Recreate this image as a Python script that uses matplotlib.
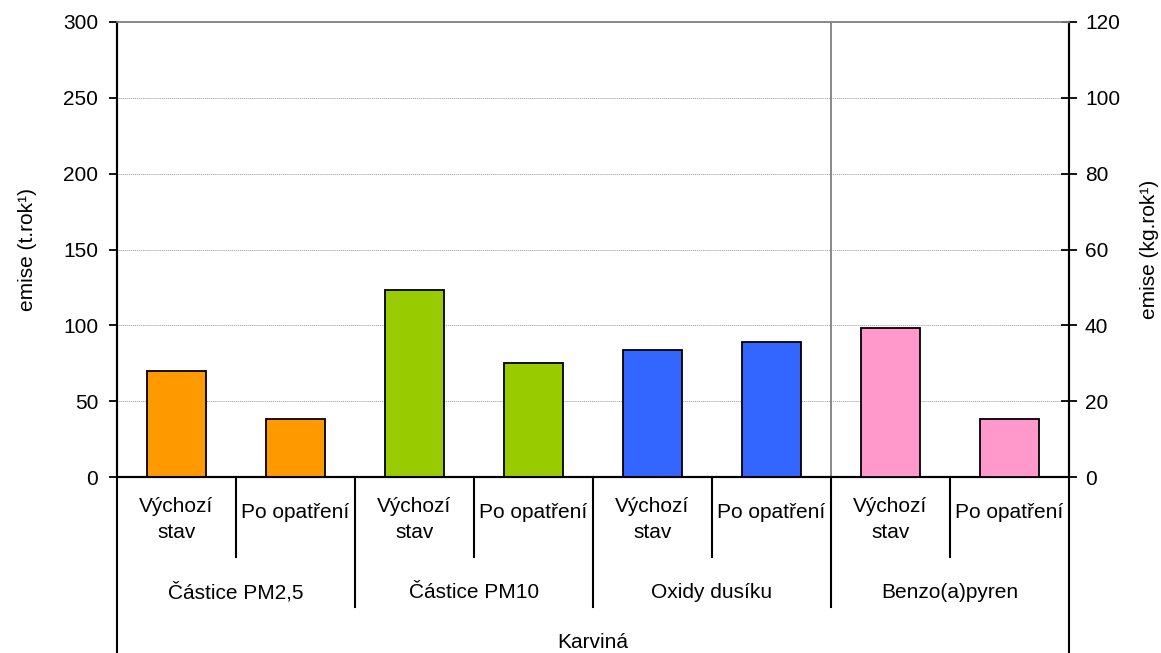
import matplotlib
matplotlib.use("Agg")
import matplotlib.pyplot as plt
from matplotlib.transforms import blended_transform_factory

plt.rcParams['font.family'] = ['Liberation Sans', 'DejaVu Sans']

# data
scenarios = ["Výchozí\nstav", "Po opatření"]
groups = ["Částice PM2,5", "Částice PM10", "Oxidy dusíku", "Benzo(a)pyren"]
region = "Karviná"
emise_t = [70.0, 38.6, 123.5, 75.4, 83.6, 89.1]      # t/rok, levá osa
emise_kg = [39.4, 15.4]                                # kg/rok, pravá osa
colors = ["#FF9900", "#99CC00", "#3366FF", "#FF99CC"]

fs = 15
W, H = 1161, 653
fig = plt.figure(figsize=(W / 100, H / 100), dpi=100)
x0, x1, ytop, ybot = 117, 1069, 21.7, 477.3
ax = fig.add_axes([x0 / W, (H - ybot) / H, (x1 - x0) / W, (ybot - ytop) / H])
ax2 = ax.twinx()

n = len(groups) * len(scenarios)
xs = list(range(n))
bar_cols = [colors[i // 2] for i in range(n)]

ax.bar(xs[:6], emise_t, width=0.5, color=bar_cols[:6], edgecolor="black", linewidth=1.3, zorder=3)
ax2.bar(xs[6:], emise_kg, width=0.5, color=bar_cols[6:], edgecolor="black", linewidth=1.3, zorder=3)

ax.set_xlim(-0.5, n - 0.5)
ax.set_ylim(0, 300)
ax2.set_ylim(0, 120)
ax.set_yticks(range(0, 301, 50))
ax2.set_yticks(range(0, 121, 20))
ax.set_xticks([])
ax2.set_xticks([])

ax.yaxis.grid(True, color="#999999", linestyle=(0, (1, 1)), linewidth=0.7, zorder=0)
ax.set_axisbelow(True)

for a in (ax, ax2):
    a.spines["top"].set_color("#888888")
    a.spines["top"].set_linewidth(1.2)
    a.spines["bottom"].set_linewidth(1.5)
    a.spines["left"].set_linewidth(1.5)
    a.spines["right"].set_linewidth(1.5)

ax.tick_params(axis="y", direction="out", length=5.5, width=1.3, labelsize=fs, pad=8)
ax2.tick_params(axis="y", direction="inout", length=11, width=1.3, labelsize=fs, pad=6)

# separator between left and right axis series
ax.axvline(5.5, color="#888888", linewidth=1.4, zorder=2)

ax.set_ylabel("emise (t.rok¹)", fontsize=fs)
ax.yaxis.set_label_coords(-80 / (x1 - x0), 0.5)
ax2.set_ylabel("emise (kg.rok¹)", fontsize=fs)
ax2.yaxis.set_label_coords(1 + 71 / (x1 - x0), 0.5)

# multi-level category axis
ph = ybot - ytop
tr = blended_transform_factory(ax.transData, ax.transAxes)
def py(px_below):
    return -px_below / ph

for i in range(n + 1):
    xb = i - 0.5
    if i in (0, n):
        depth = H - ybot
    elif i % 2 == 0:
        depth = 130
    else:
        depth = 80
    ax.plot([xb, xb], [0, py(depth)], transform=tr, color="black", linewidth=1.5, clip_on=False)

for i in range(n):
    if i % 2 == 0:
        ax.text(xs[i], py(497 - ybot), scenarios[0], transform=tr, ha="center", va="top",
                fontsize=fs, linespacing=1.45)
    else:
        ax.text(xs[i], py(512 - ybot), scenarios[1], transform=tr, ha="center", va="center", fontsize=fs)

for g, name in enumerate(groups):
    ax.text(2 * g + 0.5, py(592 - ybot), name, transform=tr, ha="center", va="center", fontsize=fs)

ax.text((n - 1) / 2, py(642 - ybot), region, transform=tr, ha="center", va="center", fontsize=fs)

fig.savefig("out.png", dpi=100)
